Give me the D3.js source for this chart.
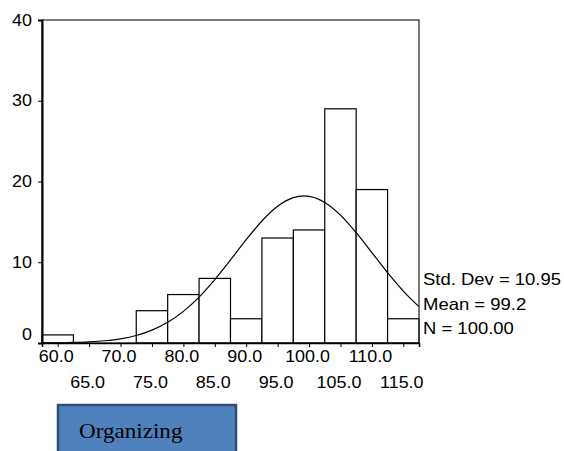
<!DOCTYPE html>
<html>
<head>
<meta charset="utf-8">
<script src="https://cdn.jsdelivr.net/npm/d3@7"></script>
<style>
  body { margin: 0; background: #fff; }
  text { font-family: "Liberation Sans", Arial, sans-serif; fill: #000; }
</style>
</head>
<body>
<div id="chart"></div>
<script>
// histogram bins (bin centres) and counts
var binCentres = [60, 65, 70, 75, 80, 85, 90, 95, 100, 105, 110, 115];
var counts = [1, 0, 0, 4, 6, 8, 3, 13, 14, 29, 19, 3];

// fitted normal curve
var curveX = [57.5, 60, 62.5, 65, 67.5, 70, 72.5, 75, 77.5, 80, 82.5, 85, 87.5, 90,
    92.5, 95, 97.5, 99.2, 102.5, 105, 107.5, 110, 112.5, 115, 117.5];
var curveY = [0.01, 0.03, 0.07, 0.14, 0.28, 0.52, 0.93, 1.59, 2.56, 3.92, 5.69, 7.86, 10.29, 12.8,
    15.11, 16.93, 18.0, 18.22, 17.41, 15.84, 13.67, 11.2, 8.71, 6.43, 4.5];

// tick labels
var yTicks = [0, 10, 20, 30, 40];
var xTicks = [60, 65, 70, 75, 80, 85, 90, 95, 100, 105, 110, 115];
var statLines = ["Std. Dev = 10.95", "Mean = 99.2", "N = 100.00"];

var binWidth = 5;

// set the dimensions and margins of the graph
var margin = {
        top: 20,
        right: 145,
        bottom: 108,
        left: 42
    },
    width = 564 - margin.left - margin.right,
    height = 451 - margin.top - margin.bottom;

var root = d3.select("#chart")
    .append("svg")
    .attr("width", 564)
    .attr("height", 451);

var svg = root.append("g")
    .attr("transform", "translate(" + margin.left + "," + margin.top + ")");

var x = d3.scaleLinear()
    .domain([57.5, 117.5])
    .range([0, width]);

var y = d3.scaleLinear()
    .domain([0, 40])
    .range([height, 0]);

// bars
svg.selectAll("rect.bar")
    .data(binCentres.map(function(c, i) { return {c: c, n: counts[i]}; })
        .filter(function(d) { return d.n > 0; }))
    .enter()
    .append("rect")
    .attr("class", "bar")
    .attr("x", function(d) { return x(d.c - binWidth / 2); })
    .attr("y", function(d) { return y(d.n); })
    .attr("width", function(d) { return x(d.c + binWidth / 2) - x(d.c - binWidth / 2); })
    .attr("height", function(d) { return height - y(d.n); })
    .attr("fill", "#fff")
    .attr("stroke", "#000")
    .attr("stroke-width", 1.2);

// normal curve
var line = d3.line()
    .x(function(d, i) { return x(curveX[i]); })
    .y(function(d) { return y(d); })
    .curve(d3.curveMonotoneX);

svg.append("path")
    .datum(curveY)
    .attr("d", line)
    .attr("fill", "none")
    .attr("stroke", "#000")
    .attr("stroke-width", 1.2);

// frame
svg.append("rect")
    .attr("x", 0)
    .attr("y", 0)
    .attr("width", width)
    .attr("height", height)
    .attr("fill", "none")
    .attr("stroke", "#222")
    .attr("stroke-width", 1.2);

// Y axis
var yAxis = svg.append("g")
    .call(d3.axisLeft(y).tickValues(yTicks).tickSize(4).tickPadding(5)
        .tickFormat(d3.format("d")));
yAxis.select(".domain").attr("stroke-width", 2);
yAxis.selectAll("text")
    .style("font-size", "16px")
    .attr("transform", "scale(1.12,1)")
    .attr("dy", function(d) { return d === 0 ? "-0.2em" : "0.32em"; });

// X axis
var xAxis = svg.append("g")
    .attr("transform", "translate(0," + height + ")")
    .call(d3.axisBottom(x).tickValues(xTicks).tickSize(4).tickPadding(6)
        .tickFormat(d3.format(".1f")));
xAxis.select(".domain").attr("stroke-width", 1.5);
xAxis.selectAll("text")
    .style("font-size", "16px")
    .attr("transform", "translate(-2,0) scale(1.12,1)")
    .attr("y", function(d, i) { return i % 2 === 0 ? 8 : 34; });

// stats text
root.selectAll("text.stat")
    .data(statLines)
    .enter()
    .append("text")
    .attr("class", "stat")
    .attr("transform", function(d, i) {
        return "translate(423," + (285 + i * 24.5) + ") scale(1.12,1)";
    })
    .style("font-size", "16.5px")
    .text(function(d) { return d; });

// blue label box
root.append("rect")
    .attr("x", 58)
    .attr("y", 405)
    .attr("width", 178)
    .attr("height", 60)
    .attr("fill", "#4f81bd")
    .attr("stroke", "#2f4b78")
    .attr("stroke-width", 2.5);

root.append("text")
    .attr("transform", "translate(79,438) scale(1.1,1)")
    .style("font-family", "'Liberation Serif', 'Times New Roman', serif")
    .style("font-size", "21px")
    .text("Organizing");
</script>
</body>
</html>
